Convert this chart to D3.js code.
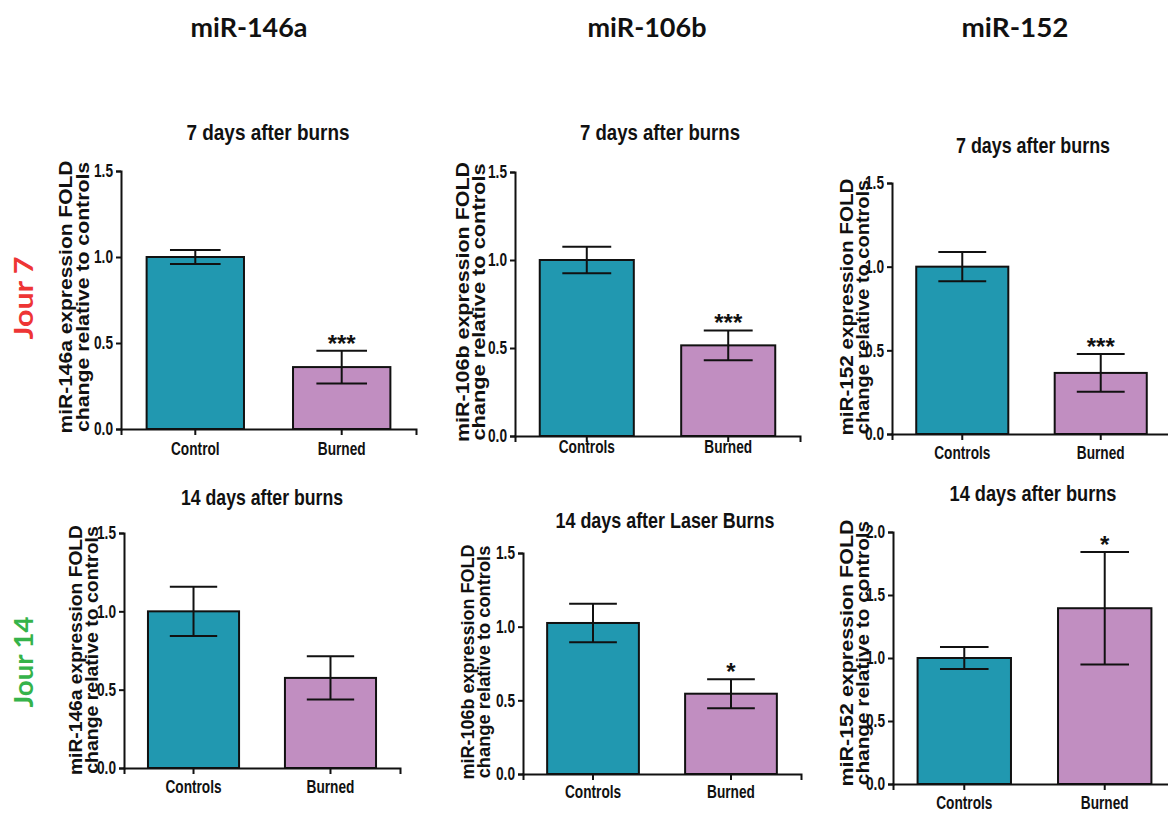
<!DOCTYPE html>
<html><head><meta charset="utf-8">
<script src="https://cdn.jsdelivr.net/npm/d3@7"></script>
<style>
html,body{margin:0;padding:0;background:#fff;}
svg{display:block;}
.narrow{font-family:"Liberation Sans",Arial,sans-serif;font-weight:bold;}
</style></head>
<body><svg id="chart" width="1168" height="813"></svg>
<script>
// ---------------- data ----------------
const genes = ["miR-146a", "miR-106b", "miR-152"];
const days = ["Jour 7", "Jour 14"];
const titles7 = ["7 days after burns", "7 days after burns", "7 days after burns"];
const titles14 = ["14 days after burns", "14 days after Laser Burns", "14 days after burns"];
const categories7 = [["Control", "Burned"], ["Controls", "Burned"], ["Controls", "Burned"]];
const categories14 = [["Controls", "Burned"], ["Controls", "Burned"], ["Controls", "Burned"]];
const means7 = [[1.00, 0.36], [1.00, 0.515], [1.00, 0.365]];
const errors7 = [[0.04, 0.095], [0.075, 0.085], [0.087, 0.113]];
const means14 = [[1.00, 0.575], [1.025, 0.545], [1.00, 1.395]];
const errors14 = [[0.157, 0.138], [0.13, 0.098], [0.087, 0.447]];
const stars7 = [["", "***"], ["", "***"], ["", "***"]];
const stars14 = [["", ""], ["", "*"], ["", "*"]];
const yMax7 = [1.5, 1.5, 1.5];
const yMax14 = [1.5, 1.5, 2.0];
const yTickStep = 0.5;
const barColors = ["#2198B0", "#C18EC1"];

// ---------------- layout (pixels) ----------------
const layout7 = [
  {ax: 121, xEnd: 416, y0: 429, yTop: 171, title: [268, 132], lab: [65, 82], labC: 297, labLen: 273, xlabY: 449},
  {ax: 515, xEnd: 800, y0: 436, yTop: 172, title: [660, 132], lab: [462, 478], labC: 302, labLen: 280, xlabY: 447},
  {ax: 892, xEnd: 1171, y0: 434, yTop: 183, title: [1033, 145], lab: [846, 862], labC: 307, labLen: 257, xlabY: 453}
];
const layout14 = [
  {ax: 124, xEnd: 400, y0: 768, yTop: 533, title: [262, 497], lab: [75, 91], labC: 650, labLen: 250, xlabY: 787},
  {ax: 523, xEnd: 801, y0: 774, yTop: 553, title: [665, 520], lab: [467, 483], labC: 662, labLen: 235, xlabY: 792},
  {ax: 893, xEnd: 1176, y0: 784, yTop: 532, title: [1033, 493], lab: [846, 862], labC: 653, labLen: 267, xlabY: 803}
];
const titleLen7 = [163, 160, 154];
const titleLen14 = [162, 219, 167];
const headerX = [249, 647, 1015];
const headerLen = [117, 119, 107];
const dayPos = [[24, 298, 83, "#EE3535"], [24, 662, 91, "#35B34A"]];

const svg = d3.select("#chart");

function squeeze(sel, f) {
  sel.each(function () {
    const w = this.getComputedTextLength();
    d3.select(this).attr("textLength", w * f).attr("lengthAdjust", "spacingAndGlyphs");
  });
}

// headers
svg.selectAll("text.header").data(genes).join("text")
  .attr("class", "header")
  .attr("x", (d, i) => headerX[i]).attr("y", 37)
  .attr("text-anchor", "middle")
  .attr("textLength", (d, i) => headerLen[i]).attr("lengthAdjust", "spacingAndGlyphs")
  .style("font-family", "Lato, 'Open Sans', sans-serif").style("font-weight", "bold")
  .style("font-size", "27px").attr("fill", "#111")
  .text(d => d);

// day labels
days.forEach((d, i) => {
  const [x, y, len, col] = dayPos[i];
  svg.append("text")
    .attr("transform", `translate(${x},${y}) rotate(-90)`)
    .attr("text-anchor", "middle").attr("dy", "0.35em")
    .attr("textLength", len).attr("lengthAdjust", "spacingAndGlyphs")
    .style("font-family", "Lato, 'Open Sans', sans-serif").style("font-weight", "bold")
    .style("font-size", "26px").attr("fill", col)
    .text(d);
});

function panel(L, gene, title, titleLen, cats, means, errs, stars, yMax) {
  const g = svg.append("g");
  const x = d3.scaleBand().domain(cats).range([L.ax, L.xEnd]).paddingInner(0.335).paddingOuter(0.175);
  const y = d3.scaleLinear().domain([0, yMax]).range([L.y0, L.yTop]);
  const ticks = d3.range(0, yMax + 1e-9, yTickStep);

  // y axis
  const yAxis = d3.axisLeft(y).tickValues(ticks).tickFormat(d3.format(".1f")).tickSizeOuter(0).tickSize(5).tickPadding(3);
  const ya = g.append("g").attr("transform", `translate(${L.ax},0)`).call(yAxis);
  ya.select(".domain").attr("stroke", "#111").attr("stroke-width", 2);
  ya.selectAll(".tick line").attr("stroke", "#111").attr("stroke-width", 2);
  const yt = ya.selectAll(".tick text").attr("class", "narrow").style("font-size", "18px").attr("fill", "#111");
  squeeze(yt, 0.76);

  // bars
  const data = cats.map((c, i) => ({c, m: means[i], e: errs[i], s: stars[i], i}));
  g.selectAll("rect").data(data).join("rect")
    .attr("x", d => x(d.c)).attr("width", x.bandwidth())
    .attr("y", d => y(d.m)).attr("height", d => y(0) - y(d.m))
    .attr("fill", d => barColors[d.i]).attr("stroke", "#111").attr("stroke-width", 2);

  // error bars
  const cap = x.bandwidth() * 0.26;
  data.forEach(d => {
    const cx = x(d.c) + x.bandwidth() / 2;
    g.append("line").attr("x1", cx).attr("x2", cx).attr("y1", y(d.m + d.e)).attr("y2", y(d.m - d.e))
      .attr("stroke", "#111").attr("stroke-width", 2);
    [d.m + d.e, d.m - d.e].forEach(v => {
      g.append("line").attr("x1", cx - cap).attr("x2", cx + cap).attr("y1", y(v)).attr("y2", y(v))
        .attr("stroke", "#111").attr("stroke-width", 2);
    });
    if (d.s) {
      g.append("text").attr("x", cx).attr("y", y(d.m + d.e) + 1)
        .attr("text-anchor", "middle")
        .style("font-family", "'Liberation Sans', Arial, sans-serif").style("font-weight", "bold")
        .style("font-size", "24px").attr("fill", "#111")
        .text(d.s);
    }
  });

  // x axis
  const xAxis = d3.axisBottom(x).tickSizeOuter(0).tickSize(6).tickPadding(4);
  const xa = g.append("g").attr("transform", `translate(0,${L.y0})`).call(xAxis);
  xa.select(".domain").attr("stroke", "#111").attr("stroke-width", 2);
  xa.selectAll(".tick line").attr("stroke", "#111").attr("stroke-width", 2);
  const xt = xa.selectAll(".tick text").attr("class", "narrow").style("font-size", "18px").attr("fill", "#111")
    .attr("y", null).attr("dy", null)
    .attr("transform", `translate(0,${L.xlabY - L.y0})`).attr("dominant-baseline", "central");
  squeeze(xt, 0.76);

  // title
  g.append("text").attr("class", "narrow").attr("x", L.title[0]).attr("y", L.title[1])
    .attr("text-anchor", "middle").attr("dominant-baseline", "central")
    .attr("textLength", titleLen).attr("lengthAdjust", "spacingAndGlyphs")
    .style("font-size", "22px").style("font-weight", "bold").attr("fill", "#111").text(title);

  // y label (two lines)
  const lines = [gene + " expression FOLD", "change relative to controls"];
  lines.forEach((t, k) => {
    g.append("text")
      .attr("transform", `translate(${L.lab[k]},${L.labC}) rotate(-90)`)
      .attr("text-anchor", "middle").attr("dominant-baseline", "central")
      .attr("textLength", L.labLen * (k === 0 ? 1 : 0.99)).attr("lengthAdjust", "spacingAndGlyphs")
      .style("font-family", "'Liberation Sans', Arial, sans-serif").style("font-weight", "bold")
      .style("font-size", "19px").attr("fill", "#111").text(t);
  });
}

genes.forEach((gene, i) => {
  panel(layout7[i], gene, titles7[i], titleLen7[i], categories7[i], means7[i], errors7[i], stars7[i], yMax7[i]);
  panel(layout14[i], gene, titles14[i], titleLen14[i], categories14[i], means14[i], errors14[i], stars14[i], yMax14[i]);
});
</script></body></html>
